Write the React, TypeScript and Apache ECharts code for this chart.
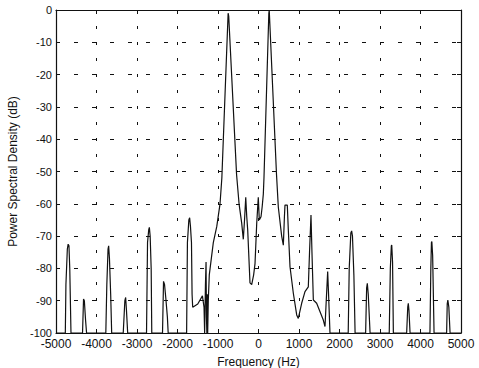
import React, { useEffect, useRef } from "react";
import * as echarts from "echarts";

const freqHz = [
  -5000, -4770, -4755, -4720, -4700, -4680, -4660, -4630,
  -4345, -4320, -4300, -4270, -4245,
  -3770, -3745, -3715, -3700, -3680, -3650, -3625,
  -3340, -3300, -3280, -3260, -3230,
  -2765, -2740, -2710, -2695, -2675, -2650, -2635,
  -2370, -2345, -2320, -2290, -2250, -2230,
  -1775, -1755, -1720, -1700, -1680, -1655, -1640, -1625, -1500, -1385, -1345,
  -1330, -1310, -1295, -1285, -1275, -1265, -1255, -1240, -1215,
  -1116, -1030, -950, -905, -750, -735, -541, -480, -415, -375, -345, -315,
  -290, -267, -210, -168, -120, -86, -44, -5, 20, 62, 90, 119, 135,
  255, 265, 445, 489, 572, 613, 640, 654, 711, 736, 778, 860, 943, 983,
  1066, 1148, 1230, 1260, 1296, 1320, 1354, 1436, 1600, 1642, 1665, 1708, 1730, 1765,
  2215, 2240, 2280, 2300, 2320, 2355, 2385,
  2645, 2670, 2687, 2710, 2755,
  3228, 3255, 3280, 3290, 3310, 3330,
  3658, 3685, 3699, 3715, 3742,
  4233, 4255, 4270, 4280, 4300, 4335,
  4645, 4660, 4675, 4700, 4730, 5000,
];

const psdDb = [
  -100, -100, -85, -74, -72.5, -73, -80, -100,
  -100, -89.5, -90, -96, -100,
  -100, -85, -74, -73, -77, -88, -100,
  -100, -90, -89, -93, -100,
  -100, -72, -68, -67.3, -70, -80, -100,
  -100, -84, -85, -89, -95, -100,
  -100, -72, -65, -64.3, -67, -72, -88, -92, -91, -88.5, -92,
  -100, -85, -78, -95, -100, -88, -100, -90, -82,
  -72, -67, -60, -52, -1, -2, -51, -60, -66, -71, -65, -58,
  -64, -68, -84.5, -85, -82, -78.5, -66, -58, -65, -64, -61, -57, -52,
  -1, 0, -51, -61, -70, -72.8, -64, -60.4, -60.4, -68, -79.5, -87.7, -94.4, -95.5,
  -90.8, -87.2, -85.7, -75, -63.5, -75, -89.8, -90.8, -96, -98, -92, -81, -88, -100,
  -100, -80, -69, -68.4, -70, -82, -100,
  -100, -86, -84.6, -88, -100,
  -100, -80, -73, -72.8, -78, -100,
  -100, -92, -90.8, -93, -100,
  -100, -80, -72, -71.7, -76, -100,
  -100, -91, -89.8, -92, -100, -100,
];

const xTicks = { min: -5000, max: 5000, interval: 1000 };
const yTicks = { min: -100, max: 0, interval: 10 };

export default function App() {
  const ref = useRef<HTMLDivElement>(null);
  useEffect(() => {
    if (!ref.current) return;
    const chart = echarts.init(ref.current, null, { renderer: "svg" });
    const font = "'Liberation Sans', Arial, Helvetica, sans-serif";
    const data = freqHz.map((f, i) => [f, psdDb[i]]);
    const fmt = (v: number) => String(v);
    const border = { show: true, onZero: false, lineStyle: { color: "#111", width: 1.2 } };
    const ticks = { show: true, inside: true, length: 4, lineStyle: { color: "#111" } };
    chart.setOption({
      animation: false,
      backgroundColor: "#ffffff",
      grid: { left: 56, right: 18, top: 10, bottom: 35, containLabel: false, outerBoundsMode: "none" },
      xAxis: [
        {
          type: "value",
          position: "bottom",
          ...xTicks,
          name: "Frequency (Hz)",
          nameLocation: "middle",
          nameGap: 23,
          nameTextStyle: { fontFamily: font, fontSize: 12, color: "#111" },
          axisLine: border,
          axisTick: ticks,
          axisLabel: { fontFamily: font, fontSize: 12, color: "#111", margin: 5, formatter: fmt },
          splitLine: {
            show: true,
            lineStyle: { color: "#111", width: 1, type: [3, 13], dashOffset: 0 },
          },
        },
        {
          type: "value",
          position: "top",
          ...xTicks,
          axisLine: border,
          axisTick: ticks,
          axisLabel: { show: false },
          splitLine: { show: false },
        },
      ],
      yAxis: [
        {
          type: "value",
          position: "left",
          ...yTicks,
          name: "Power Spectral Density (dB)",
          nameLocation: "middle",
          nameGap: 35,
          nameTextStyle: { fontFamily: font, fontSize: 12, color: "#111" },
          axisLine: border,
          axisTick: ticks,
          axisLabel: { fontFamily: font, fontSize: 11, color: "#111", margin: 4, formatter: fmt },
          splitLine: {
            show: true,
            lineStyle: { color: "#111", width: 1, type: [4, 14], dashOffset: 0 },
          },
        },
        {
          type: "value",
          position: "right",
          ...yTicks,
          axisLine: border,
          axisTick: ticks,
          axisLabel: { show: false },
          splitLine: { show: false },
        },
      ],
      series: [
        {
          type: "line",
          xAxisIndex: 0,
          yAxisIndex: 0,
          data,
          showSymbol: false,
          symbol: "none",
          clip: true,
          lineStyle: { color: "#111", width: 1.2 },
        },
      ],
    });
    return () => chart.dispose();
  }, []);
  return <div ref={ref} style={{ width: 479, height: 368, position: "absolute", left: 0, top: 0 }} />;
}
